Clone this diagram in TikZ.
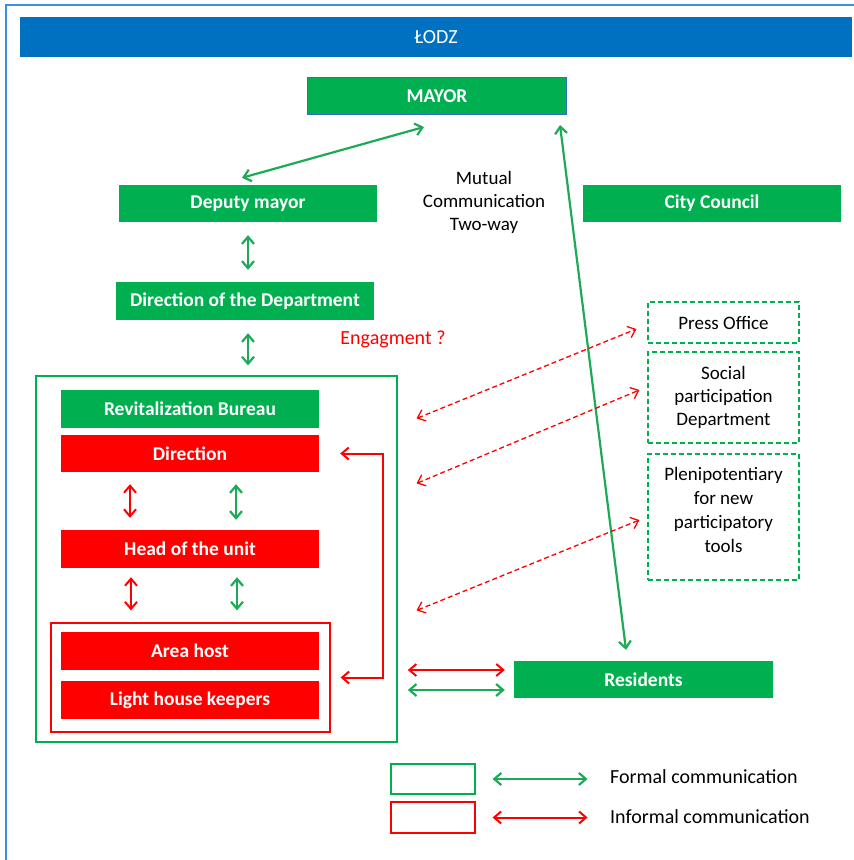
\documentclass[tikz,border=0pt]{standalone}
\usepackage{fontspec}
\setmainfont{Carlito}
\usetikzlibrary{arrows.meta}
\definecolor{lgreen}{HTML}{00B050}
\definecolor{agreen}{HTML}{1DAA55}
\definecolor{lred}{HTML}{FF0000}
\definecolor{lblue}{HTML}{0070C0}
\definecolor{frameblue}{HTML}{3D8FE0}
\definecolor{mayorblue}{HTML}{2E6FC4}
\begin{document}
\begin{tikzpicture}[x=1pt, y=-1pt, >={Straight Barb[length=7pt,width=12pt]},
    every node/.style={font=\fontsize{20}{23}\selectfont},
    gbox/.style={fill=lgreen, text=white, font=\fontsize{19.5}{22}\selectfont\bfseries,
        minimum width=258pt, minimum height=37pt, inner sep=0pt},
    rbox/.style={gbox, fill=lred},
    dbox/.style={draw=lgreen, line width=1.2pt, dash pattern=on 5pt off 3pt,
        minimum width=151pt, inner sep=0pt, align=center, font=\fontsize{19}{23}\selectfont},
    garrow/.style={<->, draw=agreen, line width=2.2pt},
    rarrow/.style={<->, draw=lred, line width=2pt},
    darrow/.style={<->, draw=lred, line width=1.3pt, dash pattern=on 5pt off 3pt}]
    \useasboundingbox (0,0) rectangle (854,860);
    \draw[frameblue, line width=1.5pt] (6,880) -- (6,5) -- (880,5);
    \node[fill=lblue, text=white, minimum width=832pt, minimum height=40pt, inner sep=0pt] (lodz) at (436,37) {ŁODZ};
    \node[gbox, draw=mayorblue, line width=1pt, minimum width=259pt] (mayor) at (437,96) {MAYOR};
    \node[gbox] (deputy) at (248,203.5) {Deputy mayor};
    \node[gbox] (council) at (712,203.5) {City Council};
    \node[align=center, font=\fontsize{19}{23}\selectfont] (mutual) at (484,202) {Mutual\\Communication\\Two-way};
    \node[gbox, minimum height=38pt] (dirdept) at (245,301) {Direction of the Department};
    \node[text=lred] (engage) at (393,339) {Engagment ?};
    \node[draw=lgreen, line width=1.2pt, minimum width=361pt, minimum height=366pt] (bureau) at (216.5,559) {};
    \node[gbox, minimum height=38pt] (revit) at (190,409) {Revitalization Bureau};
    \node[rbox] (direction) at (190,453.5) {Direction};
    \node[rbox, minimum height=38pt] (head) at (190,549) {Head of the unit};
    \node[draw=lred, line width=1.2pt, minimum width=279pt, minimum height=109pt] (field) at (190.5,677.5) {};
    \node[rbox, minimum height=38pt] (area) at (190,651) {Area host};
    \node[rbox, minimum height=38pt] (keepers) at (190,700) {Light house keepers};
    \node[gbox, minimum width=259pt] (residents) at (643.5,679.5) {Residents};
    \node[dbox, minimum height=41pt] (press) at (723.5,322.5) {Press Office};
    \node[dbox, minimum height=91pt] (social) at (723.5,397.5) {Social\\participation\\Department};
    \node[dbox, minimum height=126pt] (pleni) at (723.5,517) {};
    \node[align=center, anchor=north, inner sep=0pt, font=\fontsize{19}{24}\selectfont] (plenitext) at ([yshift=-14pt]pleni.north) {Plenipotentiary\\for new\\participatory\\tools};
    \draw[garrow] ([shift={(-6,-7)}]deputy.north) -- ([shift={(-13,12)}]mayor.south);
    \draw[garrow] ([shift={(-7,10)}]mayor.south east) -- ([shift={(-17.5,-11)}]residents.north);
    \draw[garrow, shorten <=13pt, shorten >=12pt] (deputy.south) -- (deputy.south |- dirdept.north);
    \draw[garrow, shorten <=13pt, shorten >=10pt] ([xshift=3pt]dirdept.south) -- ([xshift=3pt]dirdept.south |- bureau.north);
    \draw[rarrow, shorten <=12pt, shorten >=12pt] ([xshift=-60pt]direction.south) -- ([xshift=-60pt]head.north);
    \draw[garrow, shorten <=12pt, shorten >=10pt] ([xshift=46pt]direction.south) -- ([xshift=46pt]head.north);
    \draw[rarrow, shorten <=9pt, shorten >=12pt] ([xshift=-59pt]head.south) -- ([xshift=-59pt]head.south |- field.north);
    \draw[garrow, shorten <=9pt, shorten >=12pt] ([xshift=47pt]head.south) -- ([xshift=47pt]head.south |- field.north);
    \draw[rarrow] ([xshift=21pt]direction.east) -- ++(43,0) |- ([xshift=10pt]field.east);
    \draw[rarrow] ([shift={(-106,-9.5)}]residents.west) -- ([shift={(-9,-9.5)}]residents.west);
    \draw[garrow] ([shift={(-106,10.5)}]residents.west) -- ([shift={(-9,10.5)}]residents.west);
    \draw[darrow] ([shift={(19,43)}]bureau.north east) -- ([shift={(-11,6.5)}]press.west);
    \draw[darrow] ([shift={(19,108)}]bureau.north east) -- ([shift={(-8,-7.5)}]social.west);
    \draw[darrow] ([shift={(19,235)}]bureau.north east) -- ([shift={(-8,3)}]pleni.west);
    \node[draw=lgreen, line width=1.2pt, minimum width=84pt, minimum height=30pt] (formalkey) at (433,779) {};
    \node[draw=lred, line width=1.2pt, minimum width=84pt, minimum height=31pt] (informalkey) at (433,817.5) {};
    \draw[garrow] ([xshift=17pt]formalkey.east) -- ([xshift=112pt]formalkey.east);
    \draw[rarrow] ([xshift=17pt]informalkey.east) -- ([xshift=112pt]informalkey.east);
    \node[anchor=west, inner sep=0pt] (formal) at (610,777) {Formal communication};
    \node[anchor=west, inner sep=0pt] (informal) at (610,817) {Informal communication};
\end{tikzpicture}
\end{document}
